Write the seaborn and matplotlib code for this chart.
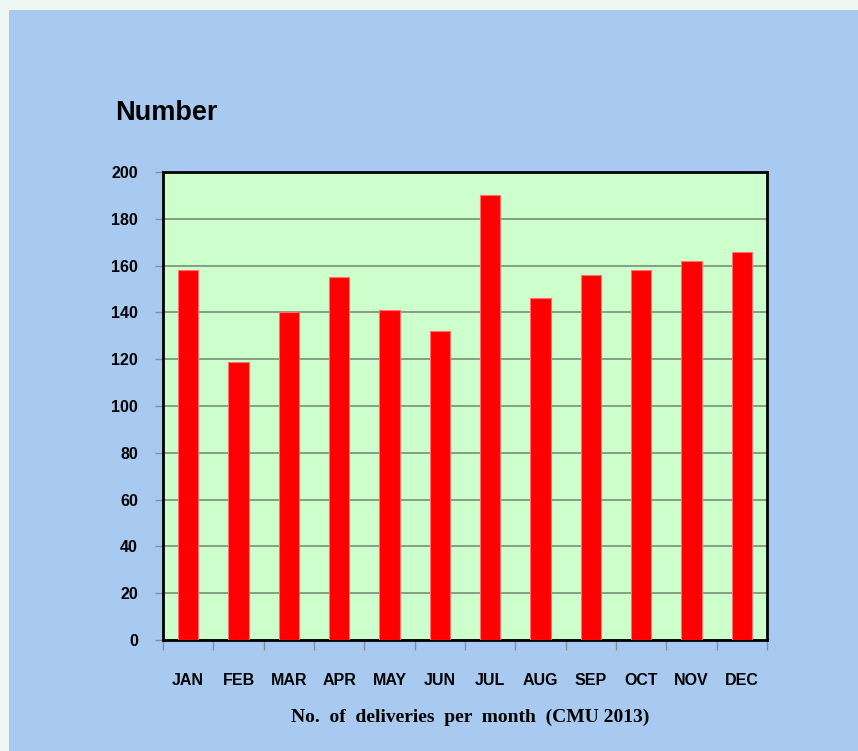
import matplotlib.pyplot as plt
import pandas as pd
import seaborn as sns
from matplotlib.patches import Rectangle

months = ["JAN", "FEB", "MAR", "APR", "MAY", "JUN",
          "JUL", "AUG", "SEP", "OCT", "NOV", "DEC"]
deliveries = [158, 119, 140, 155, 141, 132, 190, 146, 156, 158, 162, 166]
yticks = [0, 20, 40, 60, 80, 100, 120, 140, 160, 180, 200]

df = pd.DataFrame({"month": months, "deliveries": deliveries})

sns.set_style("white")
plt.rcParams["font.family"] = ["Liberation Sans", "DejaVu Sans"]
plt.rcParams["text.color"] = "black"
plt.rcParams["xtick.labelcolor"] = "black"
plt.rcParams["ytick.labelcolor"] = "black"

fig = plt.figure(figsize=(8.58, 7.51), dpi=100, facecolor="#EEF6F2")
# blue panel behind the chart
fig.patches.append(Rectangle((9 / 858, 0), 1, 1 - 10 / 751, transform=fig.transFigure,
                             facecolor="#A8CAF0", edgecolor="none", zorder=-5))

ax = fig.add_axes([163 / 858, 1 - 640 / 751, 604 / 858, 468 / 751])
ax.set_zorder(2)
ax.set_facecolor("#CCFFCC")

sns.barplot(data=df, x="month", y="deliveries", color="#FF0000", saturation=1,
            width=0.4, edgecolor="#FF7070", linewidth=0.8, ax=ax, zorder=3)

ax.set_ylim(0, 200)
ax.set_xlim(-0.5, 11.5)
ax.set_yticks(yticks)
ax.yaxis.grid(True, color="#7A8F7A", linewidth=1.2, zorder=1)
ax.set_axisbelow(True)

for s in ax.spines.values():
    s.set_color("black")
    s.set_linewidth(2)

ax.tick_params(axis="y", length=6, width=1, color="#8090A0", pad=12,
               labelsize=11.5, left=True)
for lab in ax.get_yticklabels():
    lab.set_fontweight("bold")

# tick marks between months, labels well below
ax.set_xticks([i - 0.5 for i in range(13)], minor=True)
ax.tick_params(axis="x", which="minor", length=7, width=1, color="#8090A0",
               direction="out", bottom=True)
ax.tick_params(axis="x", which="major", length=0, pad=24, labelsize=11.5)
for lab in ax.get_xticklabels():
    lab.set_fontweight("bold")

ax.set_xlabel("")
ax.set_ylabel("")

fig.text(115 / 858, 1 - 113 / 751, "Number",
         family=["Liberation Sans Narrow", "Liberation Sans"],
         fontsize=19.5, fontweight="bold", va="center", ha="left")
fig.text(470 / 858, 1 - 717 / 751, "No.  of  deliveries  per  month  (CMU 2013)",
         family=["Liberation Serif", "DejaVu Serif"],
         fontsize=14, fontweight="bold", va="center", ha="center")

fig.savefig("out.png", dpi=100, facecolor=fig.get_facecolor())
